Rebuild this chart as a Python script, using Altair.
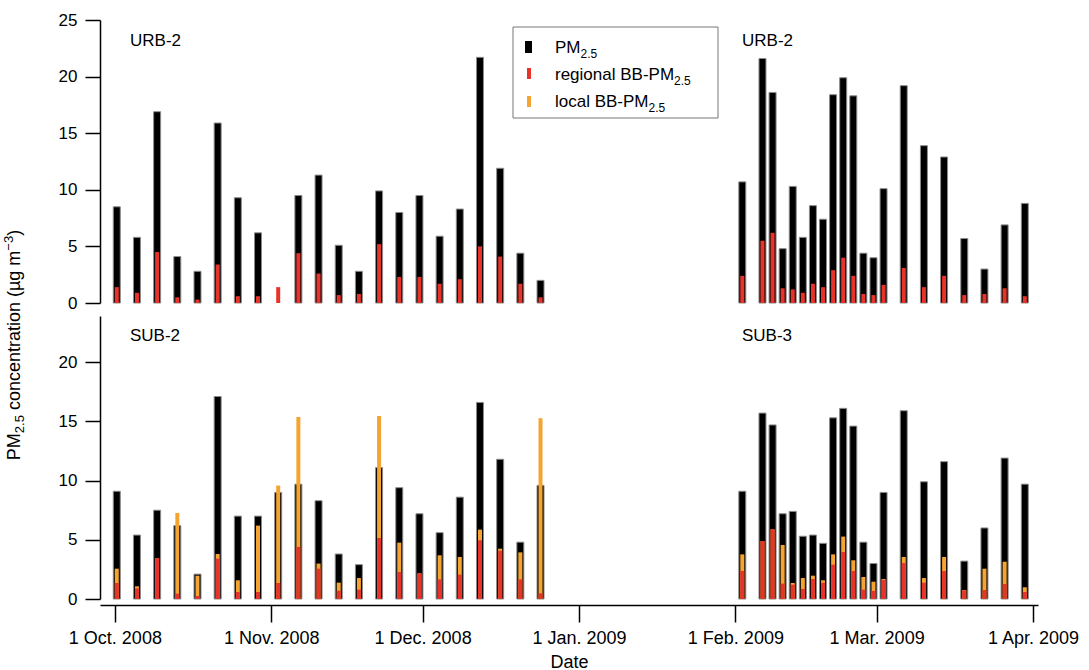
import altair as alt
import pandas as pd

FONT = "Liberation Sans"
RED = "#E8332A"
ORANGE = "#F5A431"

# ---------------- data ----------------
autumn_dates = ["2008-10-01", "2008-10-05", "2008-10-09", "2008-10-13", "2008-10-17", "2008-10-21",
                "2008-10-25", "2008-10-29", "2008-11-02", "2008-11-06", "2008-11-10", "2008-11-14",
                "2008-11-18", "2008-11-22", "2008-11-26", "2008-11-30", "2008-12-04", "2008-12-08",
                "2008-12-12", "2008-12-16", "2008-12-20", "2008-12-24"]
spring_dates = ["2009-02-02", "2009-02-06", "2009-02-08", "2009-02-10", "2009-02-12", "2009-02-14",
                "2009-02-16", "2009-02-18", "2009-02-20", "2009-02-22", "2009-02-24", "2009-02-26",
                "2009-02-28", "2009-03-02", "2009-03-06", "2009-03-10", "2009-03-14", "2009-03-18",
                "2009-03-22", "2009-03-26", "2009-03-30"]

urb_autumn_pm = [8.5, 5.8, 16.9, 4.1, 2.8, 15.9, 9.3, 6.2, None, 9.5, 11.3, 5.1, 2.8, 9.9, 8.0, 9.5,
                 5.9, 8.3, 21.7, 11.9, 4.4, 2.0]
urb_autumn_regional = [1.4, 0.9, 4.5, 0.5, 0.3, 3.4, 0.6, 0.6, 1.4, 4.4, 2.6, 0.7, 0.8, 5.2, 2.3, 2.3,
                       1.7, 2.1, 5.0, 4.1, 1.7, 0.5]
urb_spring_pm = [10.7, 21.6, 18.6, 4.8, 10.3, 5.8, 8.6, 7.4, 18.4, 19.9, 18.3, 4.4, 4.0, 10.1, 19.2,
                 13.9, 12.9, 5.7, 3.0, 6.9, 8.8]
urb_spring_regional = [2.4, 5.5, 6.2, 1.3, 1.2, 0.9, 1.7, 1.4, 2.9, 4.0, 2.4, 0.8, 0.7, 1.6, 3.1, 1.4,
                       2.4, 0.7, 0.8, 1.3, 0.6]

sub2_pm = [9.1, 5.4, 7.5, 6.2, 2.1, 17.1, 7.0, 7.0, 9.0, 9.7, 8.3, 3.8, 2.9, 11.1, 9.4, 7.2, 5.6, 8.6,
           16.6, 11.8, 4.8, 9.6]
sub2_regional = [1.35, 0.9, 3.46, 0.45, 0.25, 3.41, 0.59, 0.59, 1.35, 4.39, 2.56, 0.7, 0.79, 5.15, 2.28,
                 2.17, 1.66, 2.06, 4.96, 4.08, 1.66, 0.48]
sub2_local = [1.21, 0.17, 0.0, 6.82, 1.72, 0.39, 0.99, 5.61, 8.23, 10.99, 0.43, 0.68, 0.98, 10.31, 2.48,
              0.0, 2.03, 1.49, 0.9, 0.17, 2.28, 14.79]

sub3_pm = [9.1, 15.7, 14.7, 7.2, 7.4, 5.3, 5.4, 4.7, 15.3, 16.1, 14.6, 4.8, 3.0, 9.0, 15.9, 9.9, 11.6,
           3.2, 6.0, 11.9, 9.7]
sub3_regional = [2.37, 4.9, 5.89, 1.3, 1.21, 0.85, 1.69, 1.38, 2.9, 3.97, 2.37, 0.79, 0.68, 1.62, 3.04,
                 1.38, 2.37, 0.73, 0.76, 1.27, 0.59]
sub3_local = [1.4, 0.0, 0.0, 3.26, 0.14, 0.92, 0.28, 0.2, 0.87, 1.3, 0.9, 1.07, 0.78, 0.07, 0.51, 0.39,
              1.18, 0.03, 1.8, 1.88, 0.4]

month_ticks = ["2008-10-01", "2008-11-01", "2008-12-01", "2009-01-01", "2009-02-01", "2009-03-01",
               "2009-04-01"]
top_labels = ["URB-2", "URB-2"]
bottom_labels = ["SUB-2", "SUB-3"]

# ---------------- tables ----------------
top_df = pd.DataFrame({
    "date": [d + "T09:00:00" for d in autumn_dates + spring_dates],
    "pm": urb_autumn_pm + urb_spring_pm,
    "regional": urb_autumn_regional + urb_spring_regional,
})
bottom_df = pd.DataFrame({
    "date": [d + "T09:00:00" for d in autumn_dates + spring_dates],
    "pm": sub2_pm + sub3_pm,
    "regional": sub2_regional + sub3_regional,
    "local": sub2_local + sub3_local,
})


def dt(s, hours=0):
    y, m, d = map(int, s.split("-"))
    return alt.DateTime(year=y, month=m, date=d, hours=hours)


x_domain = [dt("2008-09-29", 1), dt("2009-04-01")]
x_scale = alt.Scale(domain=x_domain, nice=False, zero=False)

ONE = pd.DataFrame({"k": [0]})

# Arial / Liberation Sans advance widths (per 1000 em)
W = {' ': 278, '(': 333, ')': 333, '-': 333, '.': 278, '2': 556, '3': 556, '5': 556,
     'B': 667, 'M': 833, 'P': 667, 'a': 556, 'c': 500, 'e': 556, 'g': 556, 'i': 222, 'l': 222,
     'm': 833, 'n': 556, 'o': 556, 'r': 333, 't': 278, 'µ': 576, '−': 584, 'U': 722, 'R': 722,
     'S': 667}


def tw(s, size):
    return sum(W.get(c, 556) for c in s) * size / 1000.0


def txt(s, x, y, size, angle=None):
    kw = dict(text=s, font=FONT, fontSize=size, align="left", baseline="alphabetic", color="black")
    if angle is not None:
        kw["angle"] = angle
    return alt.Chart(ONE).mark_text(**kw).encode(x=alt.value(x), y=alt.value(y))


def box(x, x2, y, y2, **style):
    return alt.Chart(ONE).mark_rect(**style).encode(
        x=alt.value(x), x2=alt.value(x2), y=alt.value(y), y2=alt.value(y2))


W_PLOT = 938
H_TOP = 283
H_BOT = 283
LAB = 17

# ---------------- top panel ----------------
yt_scale = alt.Scale(domain=[0, 25], nice=False)
yt_axis = alt.Axis(values=[0, 5, 10, 15, 20, 25], title=None, tickSize=15, labelPadding=8)
black_top = alt.Chart(top_df).mark_bar(size=7, color="black", stroke="#8c8c8c", strokeWidth=1).encode(
    x=alt.X("date:T", scale=x_scale, axis=None),
    y=alt.Y("pm:Q", scale=yt_scale, stack=None, axis=yt_axis),
)
red_top = alt.Chart(top_df).mark_bar(size=4, color=RED).encode(
    x=alt.X("date:T", scale=x_scale, axis=None),
    y=alt.Y("regional:Q", scale=yt_scale, stack=None, axis=yt_axis),
)

top_layers = [black_top, red_top,
              txt(top_labels[0], 30, 26, LAB), txt(top_labels[1], 642, 26, LAB)]

# legend
top_layers.append(box(413, 618, 7, 98, fill="white", stroke="#777777", strokeWidth=1))
top_layers.append(box(425, 432, 21, 33, fill="black"))
top_layers.append(box(427, 431, 48, 59, fill=RED))
top_layers.append(box(427, 431, 76, 87, fill=ORANGE))
for base, yb in [("PM", 33), ("regional BB-PM", 60), ("local BB-PM", 87)]:
    top_layers.append(txt(base, 455, yb, LAB))
    top_layers.append(txt("2.5", 455 + tw(base, LAB), yb + 5, 12))

# y-axis title (rotated), composed with sub/superscripts: (text, size, baseline shift, gap before)
T, S = 18, 13
pieces = [("PM", T, 0, 0), ("2.5", S, 4, 0), ("concentration (µg m", T, 0, tw(" ", T)),
          ("−3", S, -7, 0), (")", T, 0, 0)]
total = sum(tw(p, f) + g for p, f, _, g in pieces)
center_y = 325
cur = center_y + total / 2
for p, f, sh, g in pieces:
    cur -= g
    top_layers.append(txt(p, -80 + sh, cur, f, angle=270))
    cur -= tw(p, f)

# invisible anchor fixing the page offset of the plot origin
top_layers.append(box(-100, -99, -20, -19, fill="white", opacity=0.01))

top = alt.layer(*top_layers).properties(width=W_PLOT, height=H_TOP)

# ---------------- bottom panel ----------------
yb_scale = alt.Scale(domain=[0, 23.9], nice=False)
yb_axis = alt.Axis(values=[0, 5, 10, 15, 20], title=None, tickSize=15, labelPadding=8)
x_axis = alt.Axis(values=[dt(m) for m in month_ticks], format="%-d %b. %Y", formatType="time",
                  title="Date", tickSize=17, offset=6, labelPadding=7, titlePadding=6,
                  labelFontSize=18, titleFontSize=18, labelFlush=False, labelOverlap=False)
black_bot = alt.Chart(bottom_df).mark_bar(size=7, color="black", stroke="#8c8c8c", strokeWidth=1).encode(
    x=alt.X("date:T", scale=x_scale, axis=x_axis),
    y=alt.Y("pm:Q", scale=yb_scale, stack=None, axis=yb_axis),
)
orange_bot = alt.Chart(bottom_df).transform_calculate(
    bb_total="datum.regional + datum.local"
).mark_bar(size=4, color=ORANGE).encode(
    x=alt.X("date:T", scale=x_scale, axis=x_axis),
    y=alt.Y("bb_total:Q", scale=yb_scale, stack=None, axis=yb_axis),
)
red_bot = alt.Chart(bottom_df).mark_bar(size=4, color=RED).encode(
    x=alt.X("date:T", scale=x_scale, axis=x_axis),
    y=alt.Y("regional:Q", scale=yb_scale, stack=None, axis=yb_axis),
)
bottom = alt.layer(
    black_bot, orange_bot, red_bot,
    txt(bottom_labels[0], 30, 25, LAB), txt(bottom_labels[1], 642, 25, LAB),
).properties(width=W_PLOT, height=H_BOT)

chart = alt.vconcat(top, bottom, spacing=13, bounds="flush").properties(
    padding=0, background="white"
).configure(font=FONT).configure_axis(
    domainColor="black", domainWidth=1.5, tickColor="black", tickWidth=1.5,
    labelFont=FONT, labelFontSize=LAB, labelColor="black", grid=False,
    titleFont=FONT, titleFontWeight="normal", titleColor="black",
).configure_view(stroke=None)

chart.save("out.html", embed_options={"renderer": "svg", "actions": False})
